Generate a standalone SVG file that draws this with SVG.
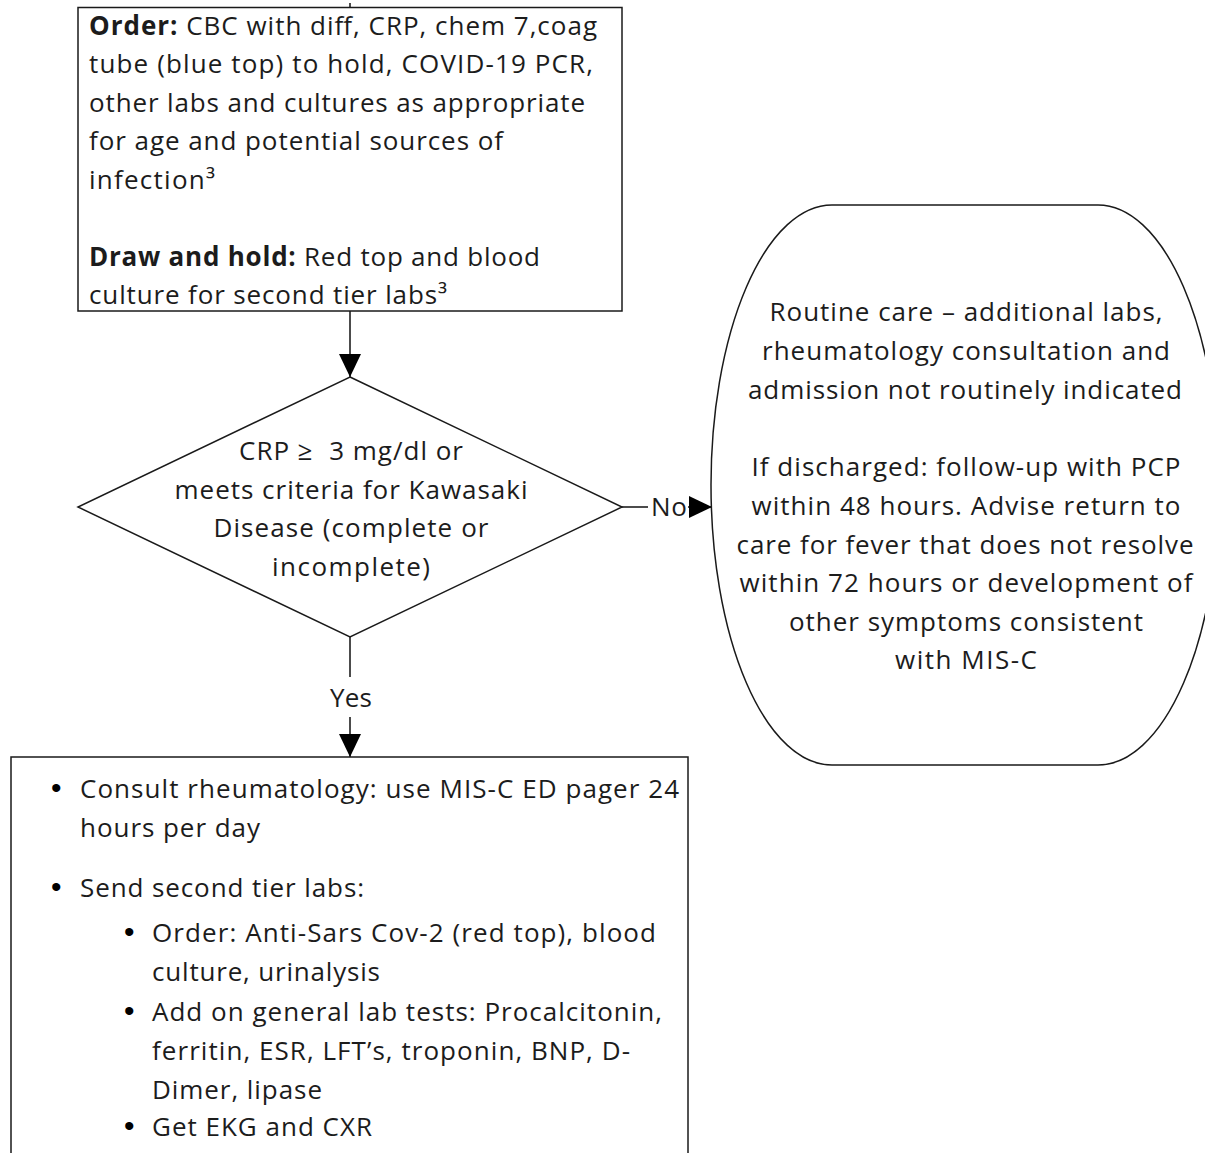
<svg xmlns="http://www.w3.org/2000/svg" width="1205" height="1153" viewBox="0 0 1205 1153">
<style>
  .shape{fill:#fff;stroke:#1a1a1a;stroke-width:1.5}
  .conn{fill:none;stroke:#111;stroke-width:1.5}
  text{font-family:"Open Sans",Lato,"Liberation Sans",sans-serif;font-size:26px;fill:#1c1c1c}
  .b{font-weight:bold}
  .c{text-anchor:middle}
  .lbl{fill:#fff;stroke:none}
  .bul{font-family:"Liberation Sans",sans-serif;font-size:30px;fill:#000}
</style>
<defs>
  <marker id="arr" markerUnits="userSpaceOnUse" markerWidth="23" markerHeight="22" refX="23" refY="11" orient="auto">
    <path d="M0,0 L23,11 L0,22 Z" fill="#000"/>
  </marker>
</defs>

<g id="connectors">
  <line class="conn" x1="350" y1="3" x2="350" y2="7.5"/>
  <line class="conn" x1="350" y1="311" x2="350" y2="377" marker-end="url(#arr)"/>
  <line class="conn" x1="622" y1="507" x2="712" y2="507" marker-end="url(#arr)"/>
  <rect class="lbl" x="648" y="492" width="40" height="30"/>
  <text x="651" y="516" textLength="36">No</text>
  <line class="conn" x1="350" y1="637" x2="350" y2="757" marker-end="url(#arr)"/>
  <rect class="lbl" x="325" y="677" width="52" height="40"/>
  <text class="c" x="351" y="707" textLength="42">Yes</text>
</g>

<g id="order-box">
  <rect class="shape" x="78" y="7.5" width="544" height="303.5"/>
  <text x="89" y="35" textLength="508"><tspan class="b">Order:</tspan> CBC with diff, CRP, chem 7,coag</text>
  <text x="89" y="73" textLength="504">tube (blue top) to hold, COVID-19 PCR,</text>
  <text x="89" y="112" textLength="496">other labs and cultures as appropriate</text>
  <text x="89" y="150" textLength="414">for age and potential sources of</text>
  <text x="89" y="189" textLength="126">infection³</text>
  <text x="89" y="266" textLength="451"><tspan class="b">Draw and hold:</tspan> Red top and blood</text>
  <text x="89" y="304" textLength="358">culture for second tier labs³</text>
</g>

<g id="decision">
  <path class="shape" d="M350,377 L622,507 L350,637 L78,507 Z"/>
  <text class="c" x="351" y="460" textLength="224">CRP ≥&#160; 3 mg/dl or</text>
  <text class="c" x="351" y="499" textLength="353">meets criteria for Kawasaki</text>
  <text class="c" x="351" y="537" textLength="275">Disease (complete or</text>
  <text class="c" x="351" y="576" textLength="158">incomplete)</text>
</g>

<g id="routine-care">
  <path class="shape" d="M832,205 L1098,205 A121,280 0 0 1 1098,765 L832,765 A121,280 0 0 1 832,205 Z"/>
  <text class="c" x="966" y="321" textLength="393">Routine care – additional labs,</text>
  <text class="c" x="966" y="360" textLength="408">rheumatology consultation and</text>
  <text class="c" x="965" y="399" textLength="434">admission not routinely indicated</text>
  <text class="c" x="966" y="476" textLength="429">If discharged: follow-up with PCP</text>
  <text class="c" x="966" y="515" textLength="429">within 48 hours. Advise return to</text>
  <text class="c" x="965" y="554" textLength="457">care for fever that does not resolve</text>
  <text class="c" x="966" y="592" textLength="453">within 72 hours or development of</text>
  <text class="c" x="966" y="631" textLength="354">other symptoms consistent</text>
  <text class="c" x="966" y="669" textLength="142">with MIS-C</text>
</g>

<g id="actions-box">
  <rect class="shape" x="11" y="757" width="677" height="420"/>
  <text class="bul" x="51" y="798">•</text>
  <text x="80" y="798" textLength="599">Consult rheumatology: use MIS-C ED pager 24</text>
  <text x="80" y="837" textLength="180">hours per day</text>
  <text class="bul" x="51" y="897">•</text>
  <text x="80" y="897" textLength="284">Send second tier labs:</text>
  <text class="bul" x="124" y="942">•</text>
  <text x="152" y="942" textLength="504">Order: Anti-Sars Cov-2 (red top), blood</text>
  <text x="152" y="981" textLength="228">culture, urinalysis</text>
  <text class="bul" x="124" y="1021">•</text>
  <text x="152" y="1021" textLength="510">Add on general lab tests: Procalcitonin,</text>
  <text x="152" y="1060" textLength="478">ferritin, ESR, LFT’s, troponin, BNP, D-</text>
  <text x="152" y="1099" textLength="170">Dimer, lipase</text>
  <text class="bul" x="124" y="1136">•</text>
  <text x="152" y="1136" textLength="220">Get EKG and CXR</text>
</g>
</svg>
